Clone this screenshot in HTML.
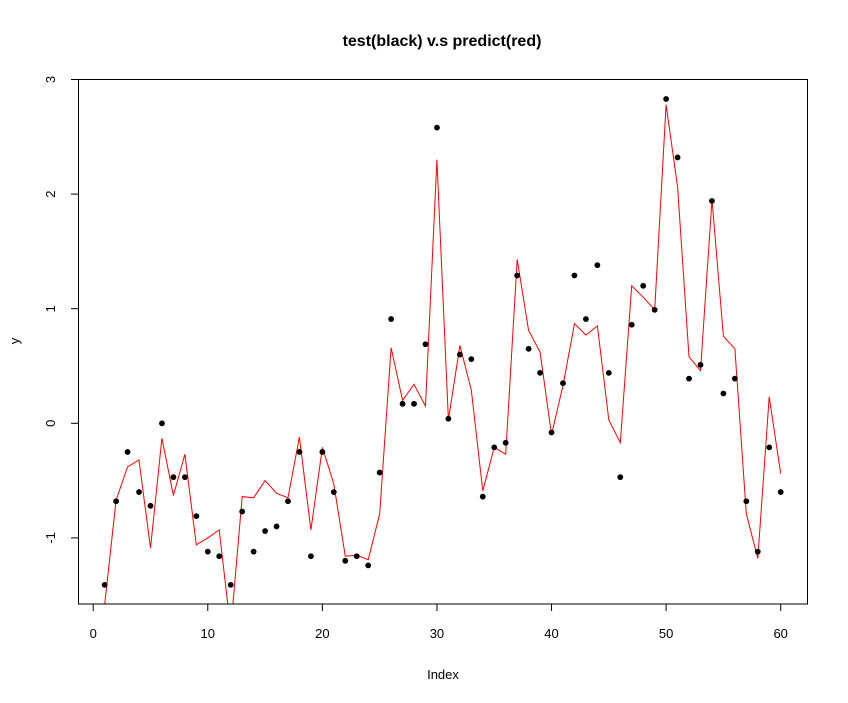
<!DOCTYPE html>
<html><head><meta charset="utf-8"><style>
html,body{margin:0;padding:0;background:#fff;}
svg{display:block;font-family:"Liberation Sans",Arial,sans-serif;}
</style></head><body>
<svg id="chart" width="848" height="703" viewBox="0 0 848 703" xmlns="http://www.w3.org/2000/svg">
<rect width="848" height="703" fill="#fff"/>
<text x="442" y="46" text-anchor="middle" font-size="16" font-weight="bold">test(black) v.s predict(red)</text>
<text x="443" y="679" text-anchor="middle" font-size="13">Index</text>
<text x="19" y="341" text-anchor="middle" font-size="13" transform="rotate(-90 19 341)">y</text>
<clipPath id="clip"><rect x="78.5" y="79" width="729" height="525"/></clipPath>
<g id="xaxis"></g>
<g id="yaxis"></g>
<g id="predline" clip-path="url(#clip)"></g>
<g id="points"></g>
<rect x="78.5" y="79.5" width="729" height="524.5" fill="none" stroke="#000" stroke-width="1"/>
</svg>
<script>
const xTicks = [0, 10, 20, 30, 40, 50, 60];
const yTicks = [-1, 0, 1, 2, 3];
const testValues = [-1.41,-0.68,-0.25,-0.60,-0.72,0.00,-0.47,-0.47,-0.81,-1.12,-1.16,-1.41,-0.77,-1.12,-0.94,-0.90,-0.68,-0.25,-1.16,-0.25,-0.60,-1.20,-1.16,-1.24,-0.43,0.91,0.17,0.17,0.69,2.58,0.04,0.60,0.56,-0.64,-0.21,-0.17,1.29,0.65,0.44,-0.08,0.35,1.29,0.91,1.38,0.44,-0.47,0.86,1.20,0.99,2.83,2.32,0.39,0.51,1.94,0.26,0.39,-0.68,-1.12,-0.21,-0.60];
const predValues = [-1.58,-0.67,-0.38,-0.32,-1.09,-0.13,-0.63,-0.27,-1.06,-1.00,-0.93,-1.80,-0.64,-0.65,-0.50,-0.61,-0.65,-0.12,-0.93,-0.21,-0.53,-1.16,-1.15,-1.19,-0.79,0.66,0.20,0.34,0.15,2.30,0.03,0.68,0.29,-0.59,-0.21,-0.27,1.43,0.81,0.62,-0.10,0.33,0.87,0.77,0.85,0.03,-0.17,1.20,1.10,0.99,2.78,2.06,0.58,0.46,1.95,0.76,0.65,-0.79,-1.18,0.23,-0.44];

const NS = "http://www.w3.org/2000/svg";
function xs(i){ return 93.2 + (i - 0) * (780.7 - 93.2) / 60; }
function ys(v){ return 423.3 - v * 114.6; }
function mk(tag, attrs, parent){
  const e = document.createElementNS(NS, tag);
  for (const k in attrs) e.setAttribute(k, attrs[k]);
  parent.appendChild(e); return e;
}
const xa = document.getElementById('xaxis');
mk('line',{x1:xs(xTicks[0]),x2:xs(xTicks[xTicks.length-1]),y1:604,y2:604,stroke:'#000'},xa);
xTicks.forEach(t=>{
  const l = mk('line',{x1:xs(t),x2:xs(t),y1:604,y2:611,stroke:'#000'},xa);
  
  
  const tx = mk('text',{x:xs(t),y:638,'text-anchor':'middle','font-size':13},xa);
  tx.textContent = t;
  
  
});
const ya = document.getElementById('yaxis');
mk('line',{x1:78.5,x2:78.5,y1:ys(yTicks[0]),y2:ys(yTicks[yTicks.length-1]),stroke:'#000'},ya);
yTicks.forEach(t=>{
  const y = ys(t);
  const l = mk('line',{x1:71,x2:78.5,y1:y,y2:y,stroke:'#000'},ya);
  
  
  const tx = mk('text',{x:55,y:y,'text-anchor':'middle','font-size':13,transform:'rotate(-90 55 '+y+')'},ya);
  tx.textContent = t;
  
  
});
const pl = document.getElementById('predline');
const path = mk('polyline',{points:predValues.map((v,i)=>xs(i+1).toFixed(1)+','+ys(v).toFixed(1)).join(' '),fill:'none',stroke:'#ff0000','stroke-width':1},pl);


const pg = document.getElementById('points');
testValues.forEach((v,i)=>{
  const c = mk('circle',{cx:xs(i+1),cy:ys(v),r:2.9,fill:'#000'},pg);
  
  
});
</script>
</body></html>
